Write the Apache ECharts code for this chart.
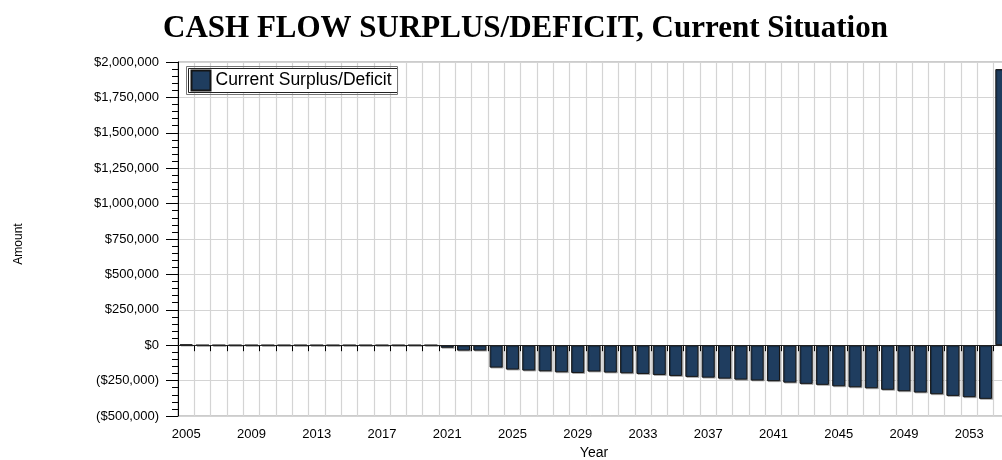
<!DOCTYPE html>
<html>
<head>
<meta charset="utf-8">
<script src="https://cdn.jsdelivr.net/npm/echarts@6/dist/echarts.min.js"></script>
<style>
html,body{margin:0;padding:0;background:#fff;}
#chart{width:1002px;height:460px;}
</style>
</head>
<body>
<div id="chart"></div>
<script>
var years = ['2005','2006','2007','2008','2009','2010','2011','2012','2013','2014','2015','2016','2017','2018','2019','2020','2021','2022','2023','2024','2025','2026','2027','2028','2029','2030','2031','2032','2033','2034','2035','2036','2037','2038','2039','2040','2041','2042','2043','2044','2045','2046','2047','2048','2049','2050','2051','2052','2053','2054','2055'];
var surplusDeficit = [5000,0,0,0,0,0,0,0,0,0,0,0,0,0,0,0,-18000,-38000,-38000,-158000,-172000,-179000,-184000,-191000,-196000,-186000,-193000,-198000,-203000,-210000,-217000,-224000,-229000,-236000,-243000,-249000,-254000,-264000,-273000,-280000,-290000,-297000,-304000,-315000,-325000,-334000,-346000,-358000,-367000,-379000,1950000];
var seriesName = 'Current Surplus/Deficit';
var titleText = 'CASH FLOW SURPLUS/DEFICIT, Current Situation';

function money(v){
  var s = Math.abs(v).toString().replace(/\B(?=(\d{3})+(?!\d))/g, ',');
  return v < 0 ? '($' + s + ')' : '$' + s;
}

var chart = echarts.init(document.getElementById('chart'), null, {renderer:'canvas'});
var sans = '"Liberation Sans", Arial, sans-serif';
chart.setOption({
  animation:false,
  backgroundColor:'#ffffff',
  title:{
    text:titleText,
    left:158,
    top:8,
    textStyle:{fontFamily:'"Liberation Serif", "Times New Roman", serif', fontWeight:'bold', fontSize:31, color:'#000'}
  },
  legend:{
    data:[seriesName],
    left:188.5, top:68.5,
    orient:'vertical',
    icon:'rect',
    itemWidth:19, itemHeight:20,
    padding:[1,6,1,2],
    borderColor:'#222', borderWidth:1,
    backgroundColor:'#fff',
    textStyle:{fontFamily:sans, fontSize:17.5, color:'#000'}
  },
  graphic:[{
    type:'rect', z:100, silent:true,
    shape:{x:186.5, y:66.5, width:211, height:28},
    style:{fill:'none', stroke:'#777', lineWidth:1}
  }],
  grid:{
    left:178, right:-8, top:62, bottom:44,
    outerBoundsMode:'none',
    containLabel:false,
    show:true, borderColor:'#999', borderWidth:1, backgroundColor:'#fff'
  },
  xAxis:{
    type:'category',
    data:years,
    name:'Year',
    nameLocation:'middle',
    nameGap:29,
    nameTextStyle:{fontFamily:sans, fontSize:14, color:'#000'},
    axisLine:{show:true, lineStyle:{color:'#000', width:1}},
    axisTick:{show:true, interval:0, length:6, lineStyle:{color:'#000'}},
    axisLabel:{interval:3, margin:12, fontFamily:sans, fontSize:13, color:'#000'},
    splitLine:{show:true, interval:0, lineStyle:{color:'#d4d4d4', width:1.2}}
  },
  yAxis:{
    type:'value',
    min:-500000, max:2000000, interval:250000,
    name:'Amount',
    nameLocation:'middle',
    nameGap:153,
    nameRotate:90,
    nameTextStyle:{fontFamily:sans, fontSize:12, color:'#000', padding:[0,10,0,0]},
    axisLine:{show:true, lineStyle:{color:'#000', width:1}},
    axisTick:{show:true, length:12, lineStyle:{color:'#000'}},
    minorTick:{show:true, splitNumber:5, length:6, lineStyle:{color:'#000'}},
    axisLabel:{formatter:money, margin:19, fontFamily:sans, fontSize:13, color:'#000'},
    splitLine:{show:true, lineStyle:{color:'#d4d4d4', width:1.2}}
  },
  series:[{
    name:seriesName,
    type:'bar',
    data:surplusDeficit,
    barWidth:'80%',
    itemStyle:{
      color:'#1F3D5F',
      borderColor:'#151515',
      borderWidth:1,
      shadowColor:'rgba(0,0,0,0.25)',
      shadowOffsetX:1,
      shadowOffsetY:1,
      shadowBlur:0
    },
    markLine:{
      silent:true,
      symbol:'none',
      label:{show:false},
      lineStyle:{color:'#222', width:1, type:'solid'},
      data:[{yAxis:0}]
    }
  }]
});
</script>
</body>
</html>
